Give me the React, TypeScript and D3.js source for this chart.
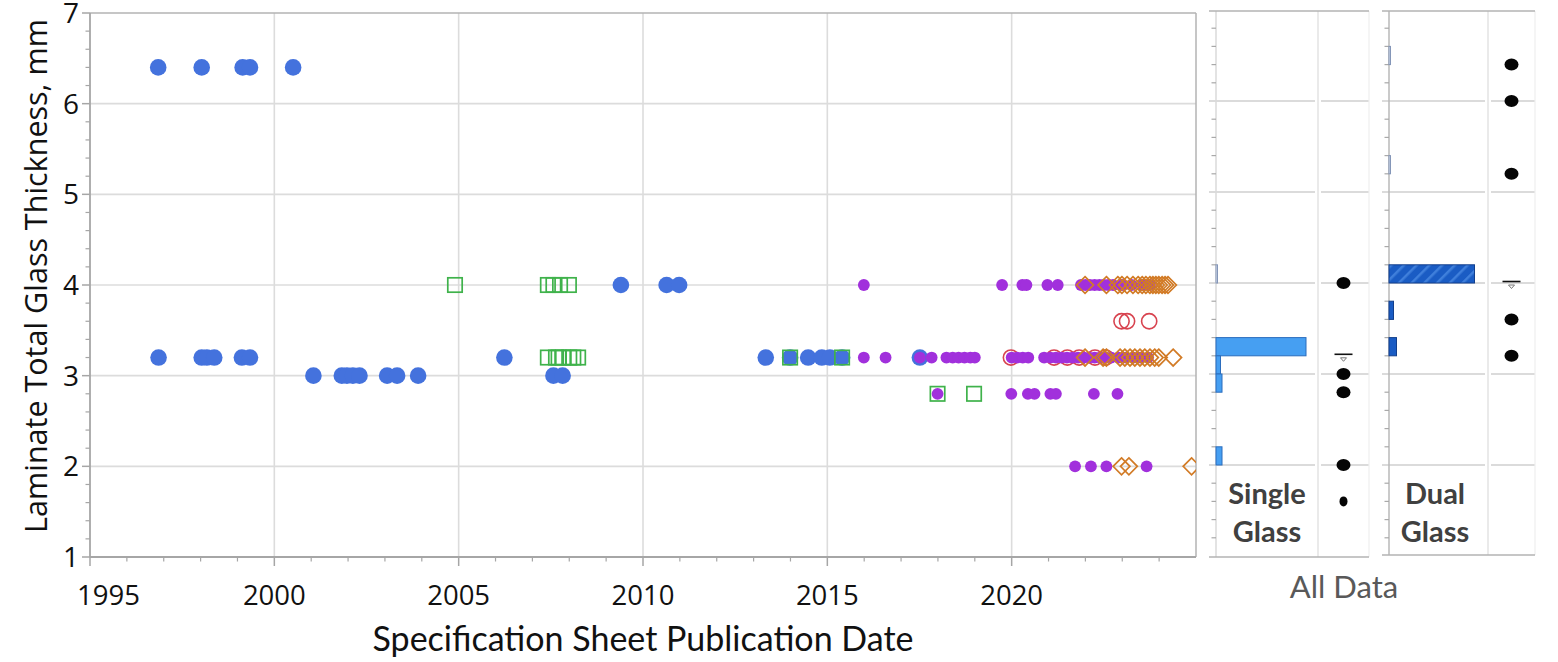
import React from 'react';
import * as d3 from 'd3';

const W = 1558;
const H = 662;

// Axis ticks
const yearTicks = [1995, 2000, 2005, 2010, 2015, 2020];
const thicknessTicks = [1, 2, 3, 4, 5, 6, 7];
const panelGridTicks = [2, 3, 4, 5, 6];

// Publication dates (decimal year) per product family, grouped by laminate thickness (mm)
const blueCircleRows = [
  { mm: 6.4, dates: [1996.85, 1998.03, 1999.14, 1999.34, 2000.51] },
  { mm: 4.0, dates: [2009.4, 2010.64, 2010.98] },
  { mm: 3.2, dates: [1996.86, 1998.03, 1998.17, 1998.37, 1999.12, 1999.34, 2006.24, 2013.33, 2013.99, 2014.48, 2014.85, 2015.07, 2015.4, 2017.51] },
  { mm: 3.0, dates: [2001.06, 2001.83, 2001.97, 2002.13, 2002.31, 2003.06, 2003.33, 2003.9, 2007.57, 2007.82] },
];

const greenSquareRows = [
  { mm: 4.0, dates: [2004.9, 2007.42, 2007.57, 2007.75, 2007.99] },
  { mm: 3.2, dates: [2007.42, 2007.64, 2007.71, 2007.83, 2008.0, 2008.11, 2008.24, 2013.99, 2015.4] },
  { mm: 2.8, dates: [2017.99, 2018.98] },
];

const redRingRows = [
  { mm: 3.6, dates: [2022.98, 2023.13, 2023.73] },
  { mm: 3.2, dates: [2019.98, 2021.15, 2021.51, 2021.83, 2022.26, 2022.55] },
];

const purpleDotRows = [
  { mm: 4.0, dates: [2015.99, 2019.74, 2020.29, 2020.4, 2020.97, 2021.25, 2021.88, 2022.0, 2022.12, 2022.25, 2022.38, 2022.5, 2022.62, 2022.75, 2023.0, 2023.25, 2023.55, 2023.75] },
  { mm: 3.2, dates: [2015.99, 2016.58, 2017.51, 2017.83, 2018.23, 2018.4, 2018.56, 2018.72, 2018.88, 2019.0, 2020.0, 2020.15, 2020.3, 2020.45, 2020.88, 2021.05, 2021.2, 2021.35, 2021.5, 2021.65, 2021.8, 2021.95, 2022.1, 2022.25, 2022.4, 2022.55, 2022.7, 2022.9, 2023.1, 2023.3, 2023.5, 2023.7] },
  { mm: 2.8, dates: [2017.99, 2019.99, 2020.44, 2020.62, 2021.05, 2021.2, 2022.23, 2022.87] },
  { mm: 2.0, dates: [2021.72, 2022.15, 2022.57, 2023.66] },
];

const orangeDiamondRows = [
  { mm: 4.0, dates: [2021.99, 2022.57, 2022.88, 2022.99, 2023.13, 2023.29, 2023.43, 2023.54, 2023.64, 2023.75, 2023.83, 2023.91, 2023.99, 2024.08, 2024.16, 2024.24] },
  { mm: 3.2, dates: [2021.99, 2022.48, 2022.57, 2022.94, 2023.07, 2023.21, 2023.34, 2023.48, 2023.61, 2023.75, 2023.88, 2023.99, 2024.38] },
  { mm: 2.0, dates: [2022.98, 2023.18, 2024.88] },
];

// Distribution panels: histogram bins (lower edge, count), box-plot median and outlying points
const binWidth = 0.2;
const singleGlassBins = [
  { lo: 4.0, count: 1 },
  { lo: 3.2, count: 60 },
  { lo: 3.0, count: 3 },
  { lo: 2.8, count: 4 },
  { lo: 2.0, count: 4 },
];
const dualGlassBins = [
  { lo: 6.4, count: 1 },
  { lo: 5.2, count: 1 },
  { lo: 4.0, count: 57 },
  { lo: 3.6, count: 3 },
  { lo: 3.2, count: 5 },
];
const singleGlassMedian = 3.2;
const dualGlassMedian = 4.0;
const singleGlassPoints = [4.0, 3.0, 2.8, 2.0, 1.6];
const dualGlassPoints = [6.4, 6.0, 5.2, 3.6, 3.2];

type Row = { mm: number; dates: number[] };
const flatten = (rows: Row[]) => rows.flatMap((r) => r.dates.map((d) => ({ date: d, mm: r.mm })));

const BLUE = '#4472dd';
const GREEN = '#3fb24b';
const RED = '#d8434f';
const PURPLE = '#a130dc';
const ORANGE = '#d27b26';

const TICK_FONT = "'Open Sans', sans-serif";
const TITLE_FONT = "Lato, 'Open Sans', sans-serif";

type PanelProps = {
  left: number;
  axisX: number;
  divider: number;
  right: number;
  top: number;
  bottom: number;
  axisColor: string;
  bins: { lo: number; count: number }[];
  barFill: string;
  barStroke: string;
  hatchBin?: number;
  median: number;
  points: number[];
  label: string[];
  labelX: number;
};

function Panel(p: PanelProps) {
  const yP = d3.scaleLinear().domain([1, 7]).range([556, 10]);
  const countScale = d3.scaleLinear().domain([0, 60]).range([0, 90]);
  const minor = d3.range(1, 7.0001, 0.2).filter((v) => Math.abs(v - Math.round(v)) > 0.01);
  const colX = (p.divider + p.right) / 2;
  return (
    <g>
      {/* grid lines, split at the column divider */}
      {panelGridTicks.map((t) => (
        <g key={t}>
          <line x1={p.left} x2={p.divider - 3} y1={yP(t)} y2={yP(t)} stroke="#cfcfcf" strokeWidth={1.6} />
          <line x1={p.divider + 3} x2={p.right} y1={yP(t)} y2={yP(t)} stroke="#cfcfcf" strokeWidth={1.6} />
        </g>
      ))}
      <line x1={p.divider} x2={p.divider} y1={p.top} y2={p.bottom} stroke="#e3e3e3" strokeWidth={1.5} />
      <line x1={p.right} x2={p.right} y1={p.top} y2={p.bottom} stroke="#efefef" strokeWidth={1.2} />
      <line x1={p.axisX} x2={p.axisX} y1={p.top} y2={p.bottom} stroke={p.axisColor} strokeWidth={1.5} />
      {minor.map((v) => (
        <line key={v} x1={p.axisX - 4.5} x2={p.axisX} y1={yP(v)} y2={yP(v)} stroke="#a9a9a9" strokeWidth={1.2} />
      ))}
      <line x1={p.left} x2={p.right} y1={p.top} y2={p.top} stroke="#b3b3b3" strokeWidth={1.5} />
      <line x1={p.left} x2={p.right} y1={p.bottom} y2={p.bottom} stroke="#b3b3b3" strokeWidth={1.5} />

      {/* histogram */}
      {p.bins.map((b) => {
        const y0 = yP(b.lo + binWidth);
        const y1 = yP(b.lo);
        const w = countScale(b.count);
        const thin = w < 2;
        return (
          <rect
            key={b.lo}
            x={p.axisX}
            y={y0}
            width={Math.max(w, 1.2)}
            height={y1 - y0}
            fill={p.hatchBin === b.lo ? 'url(#hatch)' : thin ? '#dfe6f2' : p.barFill}
            stroke={thin ? '#8496b8' : p.barStroke}
            strokeWidth={1}
          />
        );
      })}

      {/* collapsed box plot and outlying points */}
      <line x1={colX - 9} x2={colX + 9} y1={yP(p.median) - 1.5} y2={yP(p.median) - 1.5} stroke="#111" strokeWidth={1.6} />
      <path
        d={`M${colX - 3},${yP(p.median) + 2} L${colX + 3},${yP(p.median) + 2} L${colX},${yP(p.median) + 5.5} Z`}
        fill="none"
        stroke="#777"
        strokeWidth={1}
      />
      {p.points.map((v) => (
        <ellipse key={v} cx={colX} cy={yP(v)} rx={v < 1.8 ? 4 : 7} ry={v < 1.8 ? 5 : 6} fill="#050505" />
      ))}

      {p.label.map((s, i) => (
        <text
          key={s}
          x={p.labelX}
          y={504 + i * 38}
          textAnchor="middle"
          fontFamily={TITLE_FONT}
          fontWeight={700}
          fontSize={29}
          fill="#404040"
        >
          {s}
        </text>
      ))}
    </g>
  );
}

export default function App() {
  const left = 90;
  const right = 1196;
  const top = 13;
  const bottom = 557;
  const x = d3.scaleLinear().domain([1995, 2025]).range([left, right]);
  const y = d3.scaleLinear().domain([1, 7]).range([bottom, top]);

  const xMinor = d3.range(1995, 2025, 1).filter((v) => v % 5 !== 0);
  const yMinor = d3.range(1, 7.0001, 0.2).filter((v) => Math.abs(v - Math.round(v)) > 0.01);

  const blue = flatten(blueCircleRows);
  const green = flatten(greenSquareRows);
  const red = flatten(redRingRows);
  const purple = flatten(purpleDotRows);
  const orange = flatten(orangeDiamondRows);
  const diamond = d3.symbol(d3.symbolDiamond2, 180)() as string;

  return (
    <svg
      width={W}
      height={H}
      style={{ position: 'absolute', left: 0, top: 0, background: '#fff' }}
      fontFamily={TICK_FONT}
    >
      <defs>
        <clipPath id="plot-clip">
          <rect x={left} y={top} width={right - left} height={bottom - top} />
        </clipPath>
        <pattern id="hatch" width={9} height={9} patternUnits="userSpaceOnUse" patternTransform="rotate(45)">
          <rect width={9} height={9} fill="#1a5cc4" />
          <line x1={1} y1={0} x2={1} y2={9} stroke="#3f7fdb" strokeWidth={3} />
        </pattern>
      </defs>

      {/* grid */}
      {yearTicks.filter((t) => t > 1995).map((t) => (
        <line key={t} x1={x(t)} x2={x(t)} y1={top} y2={bottom} stroke="#dcdcdc" strokeWidth={1.6} />
      ))}
      {thicknessTicks.filter((t) => t > 1 && t < 7).map((t) => (
        <line key={t} x1={left} x2={right} y1={y(t)} y2={y(t)} stroke="#dcdcdc" strokeWidth={1.6} />
      ))}

      {/* frame */}
      <line x1={left} x2={right} y1={top} y2={top} stroke="#b3b3b3" strokeWidth={1.5} />
      <line x1={right} x2={right} y1={top} y2={bottom} stroke="#b3b3b3" strokeWidth={1.5} />

      {/* marks */}
      <g clipPath="url(#plot-clip)">
        {blue.map((d, i) => (
          <circle key={`b${i}`} cx={x(d.date)} cy={y(d.mm)} r={8.3} fill={BLUE} />
        ))}
        {green.map((d, i) => (
          <rect
            key={`g${i}`}
            x={x(d.date) - 7.2}
            y={y(d.mm) - 7.2}
            width={14.4}
            height={14.4}
            fill="none"
            stroke={GREEN}
            strokeWidth={1.7}
          />
        ))}
        {red.map((d, i) => (
          <circle key={`r${i}`} cx={x(d.date)} cy={y(d.mm)} r={7.6} fill="none" stroke={RED} strokeWidth={1.6} />
        ))}
        {purple.map((d, i) => (
          <circle key={`p${i}`} cx={x(d.date)} cy={y(d.mm)} r={5.9} fill={PURPLE} />
        ))}
        {orange.map((d, i) => (
          <path
            key={`o${i}`}
            d={diamond}
            transform={`translate(${x(d.date)},${y(d.mm)})`}
            fill="none"
            stroke={ORANGE}
            strokeWidth={1.7}
          />
        ))}
      </g>

      {/* y axis */}
      <line x1={left} x2={left} y1={top} y2={bottom} stroke="#a6a6a6" strokeWidth={1.8} />
      {thicknessTicks.map((t) => (
        <g key={t}>
          <line x1={left - 8} x2={left} y1={y(t)} y2={y(t)} stroke="#a6a6a6" strokeWidth={1.5} />
          <text x={left - 11} y={y(t) + 10} textAnchor="end" fontSize={28} fill="#111">
            {t}
          </text>
        </g>
      ))}
      {yMinor.map((v) => (
        <line key={v} x1={left - 4.5} x2={left} y1={y(v)} y2={y(v)} stroke="#a6a6a6" strokeWidth={1.2} />
      ))}

      {/* x axis */}
      <line x1={left} x2={right} y1={bottom} y2={bottom} stroke="#a6a6a6" strokeWidth={1.8} />
      {yearTicks.map((t, i) => (
        <g key={t}>
          <line x1={x(t)} x2={x(t)} y1={bottom} y2={bottom + 9} stroke="#a6a6a6" strokeWidth={1.5} />
          <text
            x={i === 0 ? x(t) - 13 : x(t)}
            y={605}
            textAnchor={i === 0 ? 'start' : 'middle'}
            fontSize={27.5}
            fill="#111"
          >
            {t}
          </text>
        </g>
      ))}
      {xMinor.map((v) => (
        <line key={v} x1={x(v)} x2={x(v)} y1={bottom} y2={bottom + 4.5} stroke="#a6a6a6" strokeWidth={1.2} />
      ))}

      {/* axis titles */}
      <text x={(left + right) / 2} y={651} textAnchor="middle" fontFamily={TITLE_FONT} fontSize={34} fill="#111">
        Specification Sheet Publication Date
      </text>
      <text
        transform="translate(47, 276) rotate(-90)"
        textAnchor="middle"
        fontFamily={TICK_FONT}
        fontSize={30.5}
        fill="#111"
      >
        Laminate Total Glass Thickness, mm
      </text>

      {/* distribution panels */}
      <Panel
        left={1209}
        axisX={1216}
        divider={1318}
        right={1369}
        top={11}
        bottom={557}
        axisColor="#dadada"
        bins={singleGlassBins}
        barFill="#469ff2"
        barStroke="#2b6dbd"
        median={singleGlassMedian}
        points={singleGlassPoints}
        label={['Single', 'Glass']}
        labelX={1267}
      />
      <Panel
        left={1382}
        axisX={1389}
        divider={1488}
        right={1535}
        top={11}
        bottom={555}
        axisColor="#b8b8b8"
        bins={dualGlassBins}
        barFill="#1a5cc4"
        barStroke="#123f8c"
        hatchBin={4.0}
        median={dualGlassMedian}
        points={dualGlassPoints}
        label={['Dual', 'Glass']}
        labelX={1435}
      />
      <text x={1344} y={598} textAnchor="middle" fontFamily={TITLE_FONT} fontSize={31} fill="#595959">
        All Data
      </text>
    </svg>
  );
}
